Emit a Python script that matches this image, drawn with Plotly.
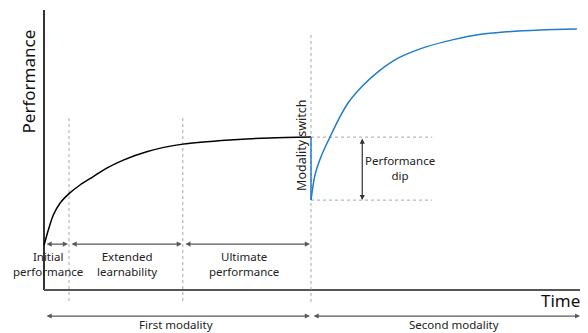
import plotly.graph_objects as go

# ---- data (time units 0..100, performance units 0..100) ----
time_first = [0, 0.81, 1.74, 3.0, 4.74, 6.74, 9.23, 11.74, 14.85, 19.23, 26.0, 34.8, 42.3, 50.0]
perf_first = [15.9, 21.4, 26.8, 31.0, 34.5, 37.5, 40.5, 43.5, 46.4, 49.4, 52.1, 53.6, 54.3, 54.6]

time_second = [50.0, 50.75, 52.0, 53.6, 55.1, 56.9, 59.5, 62.6, 66.3, 70.7, 75.1, 80.4, 86.6, 92.9, 99.8]
perf_second = [32.1, 41.1, 48.2, 54.8, 60.7, 66.7, 72.6, 78.0, 82.8, 86.3, 88.7, 90.9, 92.2, 92.9, 93.2]

switch_time = 50.0
perf_before_switch = 54.6
perf_after_switch = 32.1

phase_bounds = [0.0, 4.68, 26.0, 50.0]
phase_labels = ["Initial<br>performance", "Extended<br>learnability", "Ultimate<br>performance"]
phase_label_centers = [0.75, 15.6, 37.5]
modality_bounds = [0.0, 50.0, 100.6]
modality_labels = ["First modality", "Second modality"]
modality_label_centers = [24.8, 76.8]

axis_titles = ["Time", "Performance"]

FONT = "Noto Sans"
GRAY = "#595959"
DASH = "#a6a6a6"
BLUE = "#1f7ccc"
DASHPAT = "3px,3px"

# page body has an 8px margin; figure is sized/placed to compensate
PX_X = 5.34
PX_Y = 2.8
FIG_W, FIG_H = 580, 325
X0, Y0 = 36, 282  # figure pixel position of (t=0, p=0)

fig = go.Figure()

def line(x, y, color, width, dash=None, shape="linear", smoothing=None):
    ld = dict(color=color, width=width, dash=dash, shape=shape)
    if smoothing is not None:
        ld["smoothing"] = smoothing
    fig.add_trace(go.Scatter(x=x, y=y, mode="lines", hoverinfo="skip", line=ld))

# axes
line([0, 0], [0, 100], "#000000", 1.6)
line([0, 101.1], [0, 0], "#555555", 2)

# dashed phase boundaries
line([phase_bounds[1]] * 2, [61.4, -4.3], DASH, 1, DASHPAT)
line([phase_bounds[2]] * 2, [61.4, -4.3], DASH, 1, DASHPAT)
line([switch_time] * 2, [91.1, -4.3], DASH, 1, DASHPAT)

# dashed performance-dip guides
line([switch_time, 72.7], [perf_before_switch] * 2, DASH, 1, DASHPAT)
line([switch_time, 72.7], [perf_after_switch] * 2, DASH, 1, DASHPAT)

# curves
line(time_first, perf_first, "black", 1.5, shape="spline", smoothing=0.8)
line([switch_time, switch_time], [perf_before_switch, perf_after_switch], BLUE, 1.5)
line(time_second, perf_second, BLUE, 1.5, shape="spline", smoothing=0.8)

def darrow(x0, y0, x1, y1, color=GRAY):
    fig.add_annotation(x=x1, y=y1, ax=x0, ay=y0, xref="x", yref="y", axref="x", ayref="y",
                       text="", showarrow=True, arrowhead=2, arrowside="end+start",
                       arrowsize=0.85, arrowwidth=1.2, arrowcolor=color, standoff=0, startstandoff=0)

# phase arrows
arrow_y = 16.4
for i in range(3):
    darrow(phase_bounds[i] + 0.2, arrow_y, phase_bounds[i + 1] - 0.2, arrow_y)
    fig.add_annotation(x=phase_label_centers[i], y=9.3, text=phase_labels[i], showarrow=False,
                       font=dict(family=FONT, size=11.5, color="#222"), align="center")

# modality arrows
for i in range(2):
    darrow(modality_bounds[i] + 0.2, -9.3, modality_bounds[i + 1] - 0.2, -9.3)
    fig.add_annotation(x=modality_label_centers[i], y=-12.2, text=modality_labels[i], showarrow=False,
                       font=dict(family=FONT, size=11.5, color="#222"))

# performance dip
darrow(59.6, perf_before_switch, 59.6, perf_after_switch, "#333333")
fig.add_annotation(x=66.7, y=43.6, text="Performance<br>dip", showarrow=False,
                   font=dict(family=FONT, size=11.5, color="#222"), align="center")

# modality switch label
fig.add_annotation(x=48.3, y=51.8, text="Modality switch", showarrow=False, textangle=-90,
                   font=dict(family=FONT, size=12.5, color="#222"))

# axis titles
fig.add_annotation(x=100.8, y=-3.6, text=axis_titles[0], showarrow=False, xanchor="right",
                   font=dict(family=FONT, size=17, color="#111"))
fig.add_annotation(x=-2.9, y=74.3, text=axis_titles[1], showarrow=False, textangle=-90,
                   font=dict(family=FONT, size=17, color="#111"))

fig.update_layout(
    width=FIG_W, height=FIG_H, margin=dict(l=0, r=0, t=0, b=0),
    paper_bgcolor="white", plot_bgcolor="white", showlegend=False,
    xaxis=dict(range=[-X0 / PX_X, (FIG_W - X0) / PX_X], visible=False, fixedrange=True),
    yaxis=dict(range=[-(FIG_H - Y0) / PX_Y, Y0 / PX_Y], visible=False, fixedrange=True),
)

fig.write_html("out.html")
